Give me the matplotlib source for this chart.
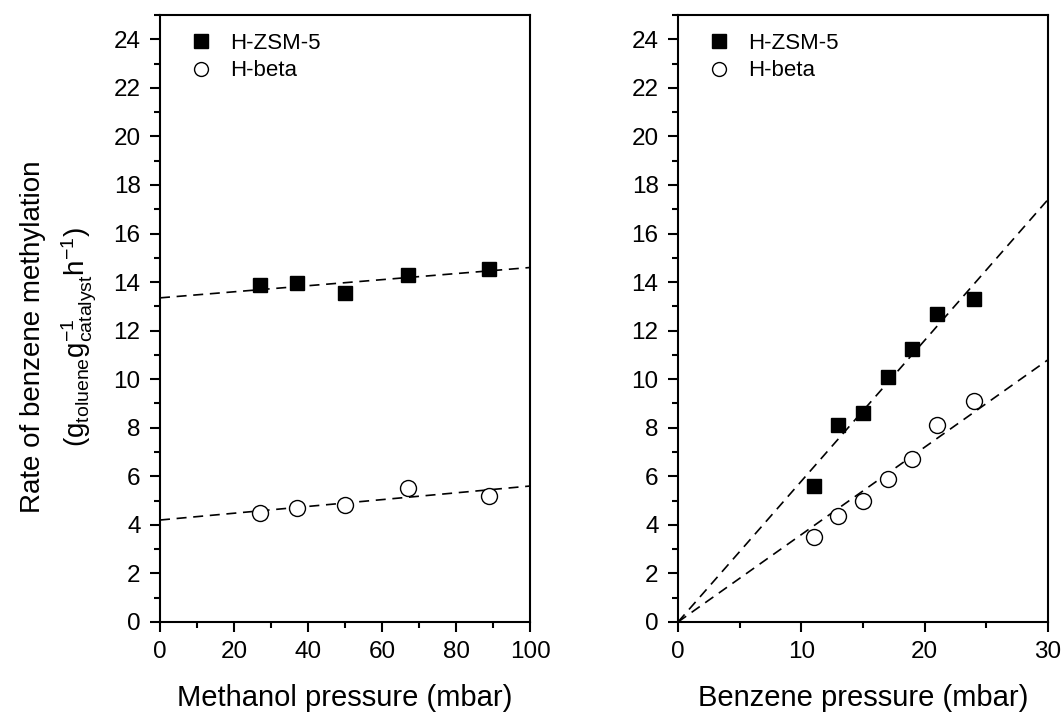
import numpy as np
import matplotlib
matplotlib.use("Agg")
import matplotlib.pyplot as plt
from matplotlib.lines import Line2D
from matplotlib.ticker import MultipleLocator

plt.rcParams["font.family"] = ["Liberation Sans", "DejaVu Sans"]
plt.rcParams["mathtext.fontset"] = "custom"
plt.rcParams["mathtext.rm"] = "Liberation Sans"
plt.rcParams["mathtext.it"] = "Liberation Sans"

# left panel: methanol pressure series
meoh_p = [27, 37, 50, 67, 89]
meoh_zsm5 = [13.9, 13.95, 13.55, 14.3, 14.55]
meoh_beta = [4.5, 4.7, 4.8, 5.5, 5.2]
meoh_fit_zsm5 = (13.35, 14.6)   # line value at x=0 and x=100
meoh_fit_beta = (4.2, 5.6)

# right panel: benzene pressure series
bz_p = [11, 13, 15, 17, 19, 21, 24]
bz_zsm5 = [5.6, 8.1, 8.6, 10.1, 11.25, 12.7, 13.3]
bz_beta = [3.5, 4.35, 5.0, 5.9, 6.7, 8.1, 9.1]
bz_fit_zsm5 = (0.0, 17.4)       # line value at x=0 and x=30
bz_fit_beta = (0.0, 10.8)

fig = plt.figure(figsize=(10.64, 7.15), dpi=100)
ax1 = fig.add_axes([160 / 1064, 93 / 715, 370 / 1064, 607 / 715])
ax2 = fig.add_axes([678 / 1064, 93 / 715, 370 / 1064, 607 / 715])

dash = dict(color="black", lw=1.2, ls=(0, (6, 4)))
sq = dict(ls="none", marker="s", ms=10, mfc="black", mec="black")
ci = dict(ls="none", marker="o", ms=11.5, mfc="white", mec="black", mew=1.0)


def style(ax, xmax, xmaj):
    ax.set_xlim(0, xmax)
    ax.set_ylim(0, 25)
    ax.xaxis.set_major_locator(MultipleLocator(xmaj))
    ax.xaxis.set_minor_locator(MultipleLocator(xmaj / 2))
    ax.yaxis.set_major_locator(MultipleLocator(2))
    ax.yaxis.set_minor_locator(MultipleLocator(1))
    ax.tick_params(which="major", direction="out", length=7, width=1.5,
                   labelsize=17.5, pad=7)
    ax.tick_params(which="minor", direction="out", length=4, width=1.5)
    for s in ax.spines.values():
        s.set_linewidth(1.5)
    leg_h = [Line2D([], [], ls="none", marker="s", ms=9.5, mfc="black", mec="black"),
             Line2D([], [], ls="none", marker="o", ms=10, mfc="white", mec="black")]
    ax.legend(leg_h, ["H-ZSM-5", "H-beta"], loc="upper left", frameon=False,
              fontsize=16, handletextpad=0.5, borderaxespad=0.4,
              labelspacing=0.3, handlelength=1.6, bbox_to_anchor=(0.015, 1.0))


ax1.plot([0, 100], meoh_fit_zsm5, **dash)
ax1.plot([0, 100], meoh_fit_beta, **dash)
ax1.plot(meoh_p, meoh_zsm5, **sq)
ax1.plot(meoh_p, meoh_beta, **ci)
style(ax1, 100, 20)
ax1.set_xlabel("Methanol pressure (mbar)", fontsize=21, labelpad=15)
ax1.set_ylabel("Rate of benzene methylation\n"
               r"$\mathrm{(g_{toluene}g_{catalyst}^{-1}h^{-1})}$",
               fontsize=20, linespacing=1.55)
ax1.yaxis.set_label_coords(-0.165, 0.47)

ax2.plot([0, 30], bz_fit_zsm5, **dash)
ax2.plot([0, 30], bz_fit_beta, **dash)
ax2.plot(bz_p, bz_zsm5, **sq)
ax2.plot(bz_p, bz_beta, **ci)
style(ax2, 30, 10)
ax2.set_xlabel("Benzene pressure (mbar)", fontsize=21, labelpad=15)

fig.savefig("out.png", dpi=100)
